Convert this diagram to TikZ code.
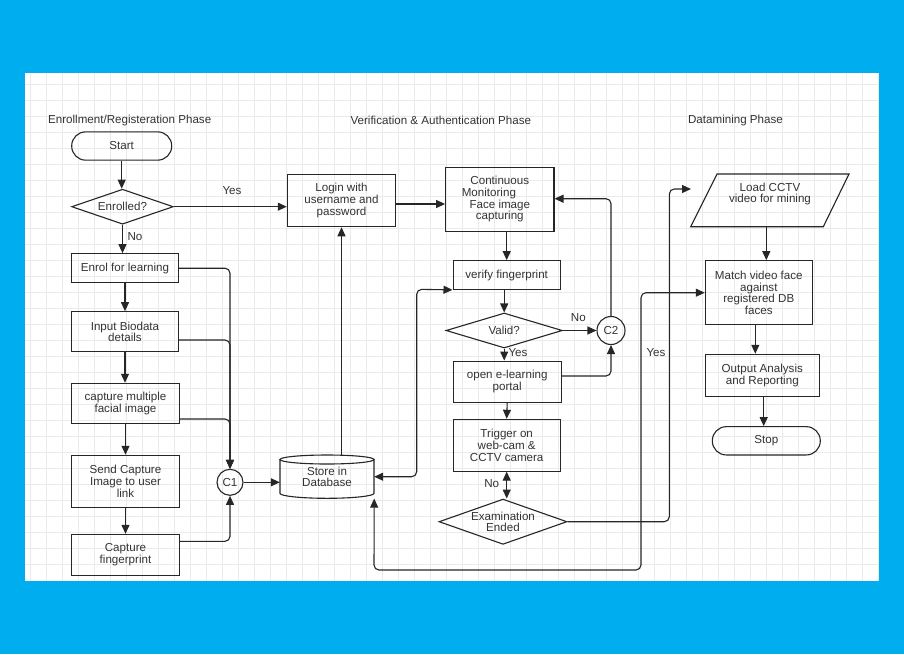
\documentclass[tikz,border=0pt]{standalone}
\usepackage{fontspec}
\setmainfont{Liberation Sans}
\usetikzlibrary{shapes.geometric,arrows.meta}
\definecolor{skyblue}{RGB}{0,174,239}
\definecolor{gridgray}{RGB}{234,234,234}
\definecolor{inkgray}{RGB}{51,51,51}
\newcommand{\flowfont}{\fontsize{11.6}{11.7}\selectfont}
\tikzset{
  gridline/.style={draw=gridgray, line width=0.9pt},
  shapeline/.style={draw=black!85, line width=1.1pt},
  box/.style={rectangle, draw=black!85, line width=1.1pt, text=inkgray, align=center, inner sep=1pt, font=\flowfont},
  term/.style={box, rounded corners=14pt},
  decision/.style={box, diamond, inner sep=0pt},
  joint/.style={box, circle, inner sep=0pt, minimum size=26pt},
  bare/.style={rectangle, text=inkgray, align=center, inner sep=1pt, font=\flowfont},
  phase/.style={bare},
  lbl/.style={bare},
  flow/.style={draw=black!85, line width=1.1pt, rounded corners=5pt, -{Triangle[length=9pt,width=8pt]}},
  flowboth/.style={flow, {Triangle[length=9pt,width=8pt]}-{Triangle[length=9pt,width=8pt]}}
}
\begin{document}
\begin{tikzpicture}[x=1pt, y=-1pt]
  \useasboundingbox (0,0) rectangle (904,654);
  \fill[skyblue] (0,0) rectangle (904,654);
  \fill[white] (25.3,73) rectangle (879.3,580.7);
  \foreach \i in {0,...,53} \draw[gridline] (30.7+16*\i,73) -- (30.7+16*\i,580.7);
  \foreach \j in {0,...,30} \draw[gridline] (25.3,84.7+16*\j) -- (879.3,84.7+16*\j);

  % phase titles
  \node[phase] (phaseA) at (129.7,120.7) {Enrollment/Registeration Phase};
  \node[phase] (phaseB) at (440.8,120.7) {Verification \& Authentication Phase};
  \node[phase] (phaseC) at (735.5,120.7) {Datamining Phase};

  % enrollment column
  \node[term, minimum width=100pt, minimum height=28.3pt] (start) at (121.7,146) {Start};
  \node[decision, aspect=2.9, minimum width=101.6pt, minimum height=35pt] (enrolled) at (122.5,206.7) {Enrolled?};
  \node[box, minimum width=106.6pt, minimum height=29pt] (enrol) at (125,268.2) {Enrol for learning};
  \node[box, minimum width=106.6pt, minimum height=40pt] (biodata) at (125,331.7) {Input Biodata\\details};
  \node[box, minimum width=107.6pt, minimum height=40pt] (facial) at (125.5,403.3) {capture multiple\\facial image};
  \node[box, minimum width=107.6pt, minimum height=52pt] (send) at (125.5,481.3) {Send Capture\\Image to user\\link};
  \node[box, minimum width=107.6pt, minimum height=40.7pt] (finger) at (125.5,554.7) {Capture\\fingerprint};
  \node[joint] (c1) at (230,482.3) {C1};

  % database
  \node[bare, minimum width=94pt, minimum height=43.3pt] (store) at (327,476.7) {Store in\\Database};
  \draw[shapeline] (280,459.5) -- (280,493.3) arc[start angle=180, end angle=0, x radius=47, y radius=5] -- (374,459.5);
  \draw[shapeline] (327,459.5) ellipse[x radius=47, y radius=4.5];

  % verification column
  \node[box, minimum width=108.4pt, minimum height=52.4pt] (login) at (341.5,200.5) {Login with\\username and\\password};
  \node[box, minimum width=108.3pt, minimum height=63.7pt] (monitor) at (499.8,199.2) {Continuous\\\makebox[76pt][l]{Monitoring}\\Face image\\capturing};
  \node[box, minimum width=107.3pt, minimum height=28.6pt] (verify) at (506.7,275) {verify fingerprint};
  \node[decision, aspect=3.3, minimum width=116.3pt, minimum height=35pt] (valid) at (504.2,330.5) {Valid?};
  \node[joint, minimum size=28pt] (c2) at (611,330.5) {C2};
  \node[box, minimum width=108.3pt, minimum height=41.3pt] (portal) at (507.2,381.7) {open e-learning\\portal};
  \node[box, minimum width=107.3pt, minimum height=51.7pt] (trigger) at (506.7,445.2) {Trigger on\\web-cam \&\\CCTV camera};
  \node[decision, aspect=2.83, minimum width=128pt, minimum height=45.3pt] (exam) at (503,521.7) {Examination\\Ended};

  % datamining column
  \node[bare, minimum width=132pt, minimum height=52.7pt] (load) at (770,200.3) {};
  \draw[shapeline] (717,174) -- (849,174) -- (823.3,226.7) -- (690.7,226.7) -- cycle;
  \node[bare] (loadtext) at (770,194) {Load CCTV\\video for mining};
  \node[box, minimum width=107pt, minimum height=64pt] (match) at (758.8,292.7) {Match video face\\against\\registered DB\\faces};
  \node[box, minimum width=114pt, minimum height=42.4pt] (report) at (762.3,375.5) {Output Analysis\\and Reporting};
  \node[term, minimum width=108pt, minimum height=28.3pt] (stop) at (766.3,440.8) {Stop};
  \coordinate (loadin) at (691,189);

  % connectors
  \draw[flow] (start.south) -- (start.south |- enrolled.north);
  \draw[flow] (enrolled.east) -- (enrolled.east -| login.west);
  \node[lbl] (yesA) at (232,190.7) {Yes};
  \draw[flow] (enrolled.south) -- (enrolled.south |- enrol.north);
  \node[lbl] (noA) at (135,237) {No};
  \draw[flow] (enrol.south) -- (biodata.north);
  \draw[flow] (biodata.south) -- (biodata.south |- facial.north);
  \draw[flow] (facial.south) -- (send.north);
  \draw[flow] (send.south) -- (finger.north);
  \draw[flow] (enrol.east) -| (c1.north);
  \draw[flow] (biodata.east |- 0,340) -| (c1.north);
  \draw[flow] (facial.east |- 0,419) -| (c1.north);
  \draw[flow] (finger.east |- 0,541.3) -| (c1.south);
  \draw[flow] (c1.east) -- (c1.east -| store.west);
  \draw[flow] (login.south |- store.north) -- (login.south);
  \draw[flow] (login.east |- 0,204) -- (monitor.west |- 0,204);
  \draw[flow] (verify.north |- monitor.south) -- (verify.north);
  \draw[flow] (valid.north |- verify.south) -- (valid.north);
  \draw[flow] (valid.east) -- (c2.west);
  \node[lbl] (noB) at (578.3,317.7) {No};
  \draw[flow] (c2.north) |- (monitor.east |- 0,198.7);
  \draw[flow] (valid.south) -- (valid.south |- portal.north);
  \node[lbl] (yesB) at (518,352.7) {Yes};
  \draw[flow] (portal.east |- 0,376) -| (c2.south);
  \draw[flow] (portal.south) -- (trigger.north);
  \draw[flowboth] (trigger.south) -- (trigger.south |- exam.north);
  \node[lbl] (noC) at (491.7,483.3) {No};
  \draw[flow] (exam.east) -- (669.3,521.7) -- (669.3,189) -- (loadin);
  \node[lbl] (yesC) at (656,352.7) {Yes};
  \draw[flowboth] (store.east) -- (416.7,476.7) -- (416.7,289.3) -- (verify.south west);
  \draw[flowboth] (store.south east) -- (374,570) -- (641,570) -- (641,292.7) -- (match.west);
  \draw[flow] ([xshift=-3.7pt]load.south) -- ([xshift=-3.7pt]load.south |- match.north);
  \draw[flow] ([xshift=-3.5pt]match.south) -- ([xshift=-3.5pt]match.south |- report.north);
  \draw[flow] ([xshift=1.4pt]report.south) -- ([xshift=1.4pt]report.south |- stop.north);
\end{tikzpicture}
\end{document}
